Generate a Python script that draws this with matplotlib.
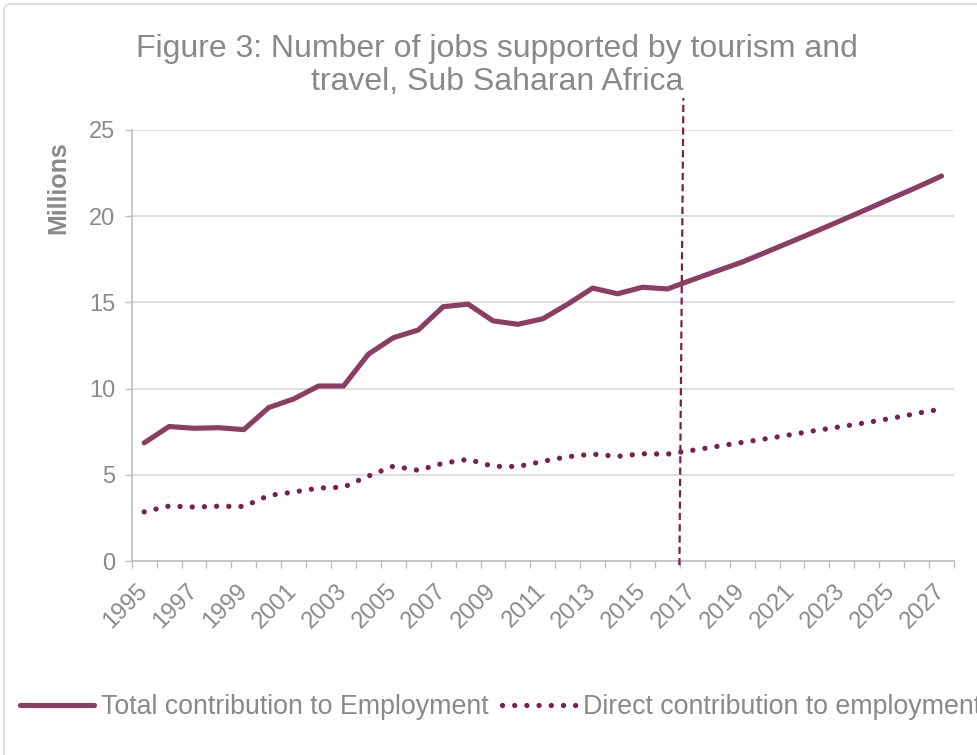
import numpy as np
import matplotlib
matplotlib.use("Agg")
import matplotlib.pyplot as plt
from matplotlib.patches import FancyBboxPatch
from matplotlib.lines import Line2D

plt.rcParams['font.family'] = ['Liberation Sans', 'DejaVu Sans']

# Jobs supported by tourism and travel, Sub Saharan Africa (millions)
years = list(range(1995, 2028))
total_employment = [6.85, 7.80, 7.70, 7.73, 7.62, 8.90, 9.40, 10.15, 10.15, 12.00,
                    12.95, 13.40, 14.75, 14.90, 13.93, 13.73, 14.05, 14.90, 15.83,
                    15.50, 15.88, 15.78, 16.31, 16.83, 17.34, 17.94, 18.54, 19.15,
                    19.77, 20.40, 21.04, 21.67, 22.33]
direct_employment = [2.85, 3.19, 3.13, 3.18, 3.16, 3.80, 4.00, 4.23, 4.28, 4.93,
                     5.50, 5.26, 5.67, 5.90, 5.49, 5.48, 5.78, 6.05, 6.20, 6.07,
                     6.22, 6.20, 6.42, 6.65, 6.88, 7.10, 7.34, 7.58, 7.80, 8.03,
                     8.28, 8.56, 8.82]
year_labels = [str(y) for y in years[::2]]
y_ticks = [0, 5, 10, 15, 20, 25]

TOTAL_COLOR = "#8B3D62"
DIRECT_COLOR = "#7B1E52"
TEXT_COLOR = "#898989"
GRID_COLOR = "#D9D9D9"
AXIS_COLOR = "#BFBFBF"
DOTTED = (0, (0.01, 2.3))

W, H = 978, 755
fig = plt.figure(figsize=(W / 100, H / 100), dpi=100)
fig.patch.set_facecolor("white")

# outer chart frame (light rounded border)
frame = FancyBboxPatch((4 / W, -0.2), 1.2, 1.2 - 4 / H,
                       boxstyle="round,pad=0,rounding_size=0.008",
                       transform=fig.transFigure, facecolor="none",
                       edgecolor=GRID_COLOR, linewidth=1.2)
fig.patches.append(frame)

ax = fig.add_axes([131.7 / W, 1 - 561 / H, (954 - 131.7) / W, (561 - 130) / H])
x = np.arange(len(years))

ax.plot(x, total_employment, color=TOTAL_COLOR, lw=3.7,
        solid_capstyle="round", solid_joinstyle="round", zorder=3,
        label="Total contribution to Employment")
ax.plot(x, direct_employment, color=DIRECT_COLOR, lw=3.8,
        linestyle=DOTTED, dash_capstyle="round", zorder=3,
        label="Direct contribution to employment")

# forecast boundary marker between 2016 and 2017
boundary = years.index(2017) - 0.5
ax.plot([boundary - 0.02, boundary + 0.14], [-0.25, 26.85], color=DIRECT_COLOR,
        lw=1.6, linestyle=(0, (3.2, 1.9)), clip_on=False, zorder=4)

ax.set_xlim(-0.5, len(years) - 0.5)
ax.set_ylim(0, 25)

ax.set_yticks(y_ticks)
ax.set_yticklabels([str(v) for v in y_ticks])
ax.yaxis.grid(True, color=GRID_COLOR, lw=1.2)
ax.set_axisbelow(True)

ax.set_xticks(x[::2])
ax.set_xticklabels(year_labels, rotation=45, ha="right", va="center",
                   rotation_mode="anchor")
ax.set_xticks(np.arange(len(years) + 1) - 0.5, minor=True)
ax.tick_params(axis="x", which="major", length=0, pad=19,
               labelsize=17, labelcolor=TEXT_COLOR)
ax.tick_params(axis="x", which="minor", length=5, color=AXIS_COLOR, width=1)
ax.tick_params(axis="y", length=5, color=AXIS_COLOR, width=1, pad=7,
               labelsize=17, labelcolor=TEXT_COLOR)

for side in ("top", "right"):
    ax.spines[side].set_visible(False)
for side in ("left", "bottom"):
    ax.spines[side].set_color(AXIS_COLOR)
    ax.spines[side].set_linewidth(1.2)

fig.text(58 / W, 1 - 188 / H, "Millions", rotation=90, ha="center", va="center",
         fontsize=18, fontweight="bold", color=TEXT_COLOR)

fig.text(497 / W, 1 - 90 / H,
         "Figure 3: Number of jobs supported by tourism and\ntravel, Sub Saharan Africa",
         ha="center", va="baseline", fontsize=23, color=TEXT_COLOR,
         linespacing=1.12, multialignment="center")

handles = [Line2D([], [], color=TOTAL_COLOR, lw=3.7, solid_capstyle="round"),
           Line2D([], [], color=DIRECT_COLOR, lw=3.8, linestyle=DOTTED,
                  dash_capstyle="round")]
fig.legend(handles, ["Total contribution to Employment",
                     "Direct contribution to employment"],
           loc="center left", bbox_to_anchor=(20 / W, 1 - 707 / H), ncol=2,
           frameon=False, fontsize=19.3, labelcolor=TEXT_COLOR,
           handlelength=2.75, handletextpad=0.27, columnspacing=0.5,
           borderaxespad=0, borderpad=0)

fig.savefig("out.png", dpi=100, facecolor="white")
